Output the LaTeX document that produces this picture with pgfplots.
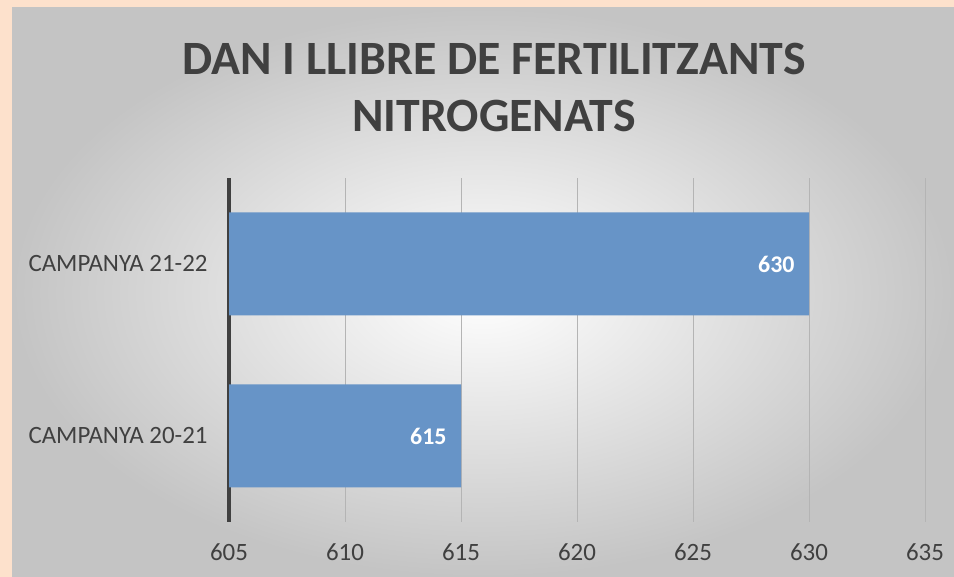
\documentclass[border=0pt]{standalone}
\usepackage{pgfplots}
\pgfplotsset{compat=1.18}
\usepackage{fontspec}
\setmainfont{Carlito}
\definecolor{peach}{HTML}{FDE1CC}
\definecolor{bgedge}{HTML}{C4C4C4}
\definecolor{barblue}{HTML}{6794C7}
\definecolor{txt}{HTML}{404040}
\definecolor{gridc}{HTML}{B4B4B4}
\begin{document}
\begin{tikzpicture}[x=1bp,y=1bp]
\useasboundingbox (0,0) rectangle (954,577);
\fill[peach] (0,0) rectangle (954,577);
\shade[inner color=white, outer color=bgedge] (12,0) rectangle (954,569);
\node[anchor=base, text=txt, font=\fontsize{48}{52}\selectfont\bfseries] at (494,502) {DAN I LLIBRE DE FERTILITZANTS};
\node[anchor=base, text=txt, font=\fontsize{48}{52}\selectfont\bfseries] at (494,445) {NITROGENATS};
\begin{axis}[
  at={(229bp,55bp)}, anchor=south west,
  scale only axis, width=696bp, height=344bp,
  /pgf/number format/assume math mode=true,
  xbar, bar width=103bp,
  xmin=605, xmax=635, ymin=-0.5, ymax=1.5,
  xtick={605,610,...,635},
  ytick={0,1}, yticklabels={CAMPANYA 20-21, CAMPANYA 21-22},
  axis line style={draw=none},
  major tick length=0pt,
  xmajorgrids, grid style={gridc, line width=1bp},
  extra x ticks={605}, extra x tick labels={},
  extra x tick style={grid style={txt, line width=4bp}},
  tick label style={text=txt},
  xticklabel style={yshift=-18bp, font=\fontsize{25}{28}\selectfont},
  yticklabel style={xshift=-18bp, font=\fontsize{25}{28}\selectfont},
  nodes near coords,
  nodes near coords style={anchor=east, xshift=-11bp, text=white, font=\fontsize{24}{28}\selectfont\bfseries},
  clip=true,
]
\addplot[fill=barblue, draw=none] coordinates {(615,0) (630,1)};
\end{axis}
\end{tikzpicture}
\end{document}
